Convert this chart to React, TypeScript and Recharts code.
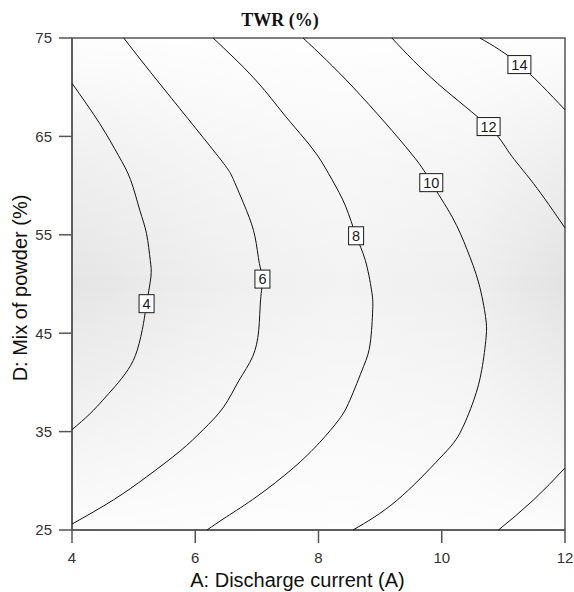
import { ReferenceArea, Scatter, ScatterChart, XAxis, YAxis, Label } from "recharts";

// contour lines (A: discharge current, D: mix of powder)
const level4 = [
  { x: 4.0, y: 70.4 }, { x: 4.45, y: 66.3 }, { x: 4.75, y: 63.1 }, { x: 4.95, y: 60.6 },
  { x: 5.1, y: 57.5 }, { x: 5.21, y: 55.1 }, { x: 5.27, y: 52.4 }, { x: 5.28, y: 50.7 },
  { x: 5.21, y: 48.0 }, { x: 5.16, y: 46.0 }, { x: 5.06, y: 43.3 }, { x: 4.91, y: 41.3 },
  { x: 4.7, y: 39.6 }, { x: 4.5, y: 38.2 }, { x: 4.29, y: 36.8 }, { x: 4.0, y: 35.2 }
];
const level6 = [
  { x: 4.84, y: 75 }, { x: 5.38, y: 70.7 }, { x: 6.33, y: 63.3 }, { x: 6.62, y: 60.6 },
  { x: 6.83, y: 57.5 }, { x: 6.97, y: 54.8 }, { x: 7.04, y: 52.1 }, { x: 7.09, y: 50.5 },
  { x: 7.06, y: 48.4 }, { x: 7.03, y: 45.3 }, { x: 6.93, y: 42.6 }, { x: 6.71, y: 40.2 },
  { x: 6.46, y: 37.5 }, { x: 6.13, y: 35.2 }, { x: 5.75, y: 33.0 }, { x: 5.21, y: 30.4 },
  { x: 4.67, y: 28.05 }, { x: 4.0, y: 25.6 }
];
const level8 = [
  { x: 6.29, y: 75 }, { x: 6.94, y: 71.0 }, { x: 7.38, y: 67.7 }, { x: 7.7, y: 65.3 },
  { x: 7.98, y: 63.1 }, { x: 8.22, y: 60.6 }, { x: 8.44, y: 57.9 }, { x: 8.61, y: 54.9 },
  { x: 8.76, y: 52.4 }, { x: 8.86, y: 49.4 }, { x: 8.88, y: 47.4 }, { x: 8.84, y: 44.0 },
  { x: 8.73, y: 41.6 }, { x: 8.51, y: 38.2 }, { x: 8.33, y: 36.2 }, { x: 8.02, y: 33.9 },
  { x: 7.59, y: 31.3 }, { x: 7.0, y: 28.4 }, { x: 6.51, y: 26.35 }, { x: 6.19, y: 25 }
];
const level10 = [
  { x: 7.75, y: 75 }, { x: 8.56, y: 70.0 }, { x: 9.5, y: 63.3 }, { x: 9.83, y: 60.3 },
  { x: 10.17, y: 56.8 }, { x: 10.41, y: 53.5 }, { x: 10.6, y: 50.1 }, { x: 10.71, y: 46.7 },
  { x: 10.72, y: 44.6 }, { x: 10.65, y: 41.3 }, { x: 10.52, y: 38.2 }, { x: 10.29, y: 34.8 },
  { x: 9.97, y: 32.3 }, { x: 9.27, y: 28.0 }, { x: 8.56, y: 25 }
];
const level12Top = [
  { x: 9.19, y: 75 }, { x: 9.93, y: 70.4 }, { x: 10.76, y: 66.0 }, { x: 11.1, y: 63.3 },
  { x: 11.49, y: 60.2 }, { x: 12.0, y: 55.7 }
];
const level12Bottom = [
  { x: 10.92, y: 25 }, { x: 11.48, y: 28.0 }, { x: 12.0, y: 31.3 }
];
const level14 = [
  { x: 10.62, y: 75 }, { x: 11.26, y: 72.3 }, { x: 12.0, y: 67.7 }
];

const contours = [level4, level6, level8, level10, level12Top, level12Bottom, level14];

const levelTags = [
  { x: 5.21, y: 48.0, level: "4" },
  { x: 7.09, y: 50.5, level: "6" },
  { x: 8.61, y: 54.9, level: "8" },
  { x: 9.83, y: 60.3, level: "10" },
  { x: 10.76, y: 66.0, level: "12" },
  { x: 11.26, y: 72.3, level: "14" }
];

const xTicks = [4, 6, 8, 10, 12];
const yTicks = [25, 35, 45, 55, 65, 75];

const sans = "Arial, 'Liberation Sans', sans-serif";

const NoDot = () => <g />;

const LevelTag = (props: any) => {
  const { cx, cy, payload } = props;
  const w = payload.level.length * 8 + 7;
  return (
    <g>
      <rect x={cx - w / 2} y={cy - 9} width={w} height={18} fill="#fff" stroke="#1a1a1a" strokeWidth={1} />
      <text x={cx} y={cy} dy="0.36em" textAnchor="middle" fontSize={14.5} fontFamily={sans} fill="#1a1a1a">
        {payload.level}
      </text>
    </g>
  );
};

const YTitle = (props: any) => {
  const { viewBox } = props;
  const cx = 27;
  const cy = viewBox.y + viewBox.height / 2 + 4;
  return (
    <text
      x={cx}
      y={cy}
      transform={`rotate(-90, ${cx}, ${cy})`}
      textAnchor="middle"
      fontSize={20}
      fontFamily={sans}
      fill="#111"
    >
      D: Mix of powder (%)
    </text>
  );
};

export default function App() {
  return (
    <div style={{ position: "absolute", left: 0, top: 0, width: 574, height: 592, background: "#fff" }}>
      <div
        style={{
          position: "absolute",
          left: 200,
          top: 11,
          width: 160,
          height: 18,
          lineHeight: "18px",
          textAlign: "center",
          fontFamily: "'Liberation Serif', 'Times New Roman', serif",
          fontWeight: "bold",
          fontSize: 18,
          color: "#111"
        }}
      >
        TWR (%)
      </div>
      <ScatterChart width={574} height={592} margin={{ top: 38, right: 9, left: 0, bottom: 0 }}>
        <defs>
          <linearGradient id="shadeX" x1="0" y1="0" x2="1" y2="0">
            <stop offset="0%" stopColor="#e5e5e5" />
            <stop offset="30%" stopColor="#efefef" />
            <stop offset="55%" stopColor="#f3f3f3" />
            <stop offset="80%" stopColor="#efefef" />
            <stop offset="100%" stopColor="#e3e3e3" />
          </linearGradient>
          <linearGradient id="shadeY" x1="0" y1="0" x2="0" y2="1">
            <stop offset="0%" stopColor="#fff" stopOpacity={0.95} />
            <stop offset="25%" stopColor="#fff" stopOpacity={0.4} />
            <stop offset="50%" stopColor="#fff" stopOpacity={0} />
            <stop offset="75%" stopColor="#fff" stopOpacity={0.45} />
            <stop offset="100%" stopColor="#fff" stopOpacity={0.9} />
          </linearGradient>
        </defs>
        <XAxis
          type="number"
          dataKey="x"
          domain={[4, 12]}
          ticks={xTicks}
          height={62}
          tickSize={13}
          tickMargin={9}
          stroke="#555"
          strokeWidth={1.5}
          tick={{ fontSize: 15, fontFamily: sans, fill: "#333" }}
        >
          <Label
            value="A: Discharge current (A)"
            position="insideBottom"
            offset={5}
            dx={-21}
            style={{ fontSize: 20, fontFamily: sans, fill: "#111" }}
          />
        </XAxis>
        <YAxis
          type="number"
          dataKey="y"
          domain={[25, 75]}
          ticks={yTicks}
          width={72}
          tickSize={13}
          tickMargin={7}
          stroke="#555"
          strokeWidth={1.5}
          tick={{ fontSize: 15, fontFamily: sans, fill: "#333" }}
        >
          <Label content={YTitle} />
        </YAxis>
        <ReferenceArea x1={4} x2={12} y1={25} y2={75} fill="url(#shadeX)" fillOpacity={1} stroke="none" />
        <ReferenceArea x1={4} x2={12} y1={25} y2={75} fill="url(#shadeY)" fillOpacity={1} stroke="#555" strokeWidth={1.5} />
        {contours.map((pts, i) => (
          <Scatter
            key={i}
            data={pts}
            line={{ stroke: "#111", strokeWidth: 1 }}
            lineType="joint"
            lineJointType="natural"
            shape={NoDot}
            isAnimationActive={false}
          />
        ))}
        <Scatter data={levelTags} shape={LevelTag} isAnimationActive={false} />
      </ScatterChart>
    </div>
  );
}
